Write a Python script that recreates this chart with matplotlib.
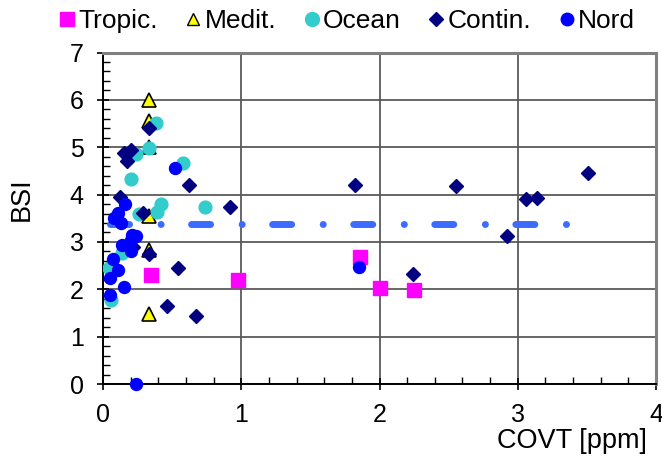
import matplotlib
matplotlib.use("Agg")
import matplotlib.pyplot as plt
from matplotlib.lines import Line2D
from matplotlib.ticker import MultipleLocator

plt.rcParams['font.family'] = ['Liberation Sans', 'DejaVu Sans']
plt.rcParams['lines.scale_dashes'] = False

# values
tropic_x = [0.35, 0.98, 1.86, 2.00, 2.25]
tropic_y = [2.30, 2.19, 2.68, 2.02, 1.98]

medit_x = [0.33, 0.33, 0.33, 0.33, 0.33, 0.33]
medit_y = [6.00, 5.55, 5.00, 3.55, 2.83, 1.48]

ocean_x = [0.38, 0.33, 0.24, 0.58, 0.20, 0.42, 0.39, 0.26, 0.74, 0.14, 0.04, 0.06]
ocean_y = [5.51, 4.99, 4.86, 4.66, 4.32, 3.81, 3.64, 3.58, 3.74, 2.76, 2.44, 1.78]

contin_x = [0.33, 0.20, 0.15, 0.17, 0.62, 0.12, 0.29, 0.92, 0.22, 0.33,
            0.54, 0.46, 0.67, 1.82, 2.55, 3.06, 3.14, 3.51, 2.92, 2.24]
contin_y = [5.41, 4.95, 4.88, 4.71, 4.21, 3.94, 3.62, 3.74, 2.90, 2.74,
            2.44, 1.64, 1.43, 4.20, 4.18, 3.90, 3.92, 4.46, 3.12, 2.32]

nord_x = [0.52, 0.16, 0.11, 0.08, 0.13, 0.21, 0.24, 0.20, 0.14, 0.20,
          0.07, 0.11, 0.05, 0.15, 0.05, 0.24, 1.85]
nord_y = [4.57, 3.80, 3.62, 3.50, 3.39, 3.15, 3.12, 3.04, 2.93, 2.81,
          2.65, 2.41, 2.24, 2.04, 1.87, 0.00, 2.48]

mean_bsi = 3.38
mean_x = [0.054, 3.352]

fig = plt.figure(figsize=(6.62, 4.61), dpi=100)
ax = fig.add_axes([103 / 662, 1 - 384 / 461, 553 / 662, 331.5 / 461])

ax.set_xlim(0, 4)
ax.set_ylim(0, 7)

# mean line, dash-dot with round caps
ax.plot(mean_x, [mean_bsi, mean_bsi], color='#3B6BFF', lw=5,
        dashes=(13.7, 22.7, 0.07, 21.9), dash_capstyle='round', zorder=2)

ax.plot(tropic_x, tropic_y, 's', ms=10.5, color='#FF00FF', mec='#FF00FF', zorder=3)
ax.plot(medit_x, medit_y, '^', ms=9.5, mfc='#FFFF00', mec='black', mew=1.2, zorder=3)
ax.plot(ocean_x, ocean_y, 'o', ms=9.2, color='#33CCCC', zorder=3)
ax.plot(contin_x, contin_y, 'D', ms=7.5, color='#000080', zorder=3)
ax.plot(nord_x, nord_y, 'o', ms=8.6, color='#0000FF', zorder=3, clip_on=False)

ax.xaxis.set_major_locator(MultipleLocator(1))
ax.yaxis.set_major_locator(MultipleLocator(1))
ax.xaxis.set_minor_locator(MultipleLocator(0.2))
ax.yaxis.set_minor_locator(MultipleLocator(0.2))
ax.grid(True, which='major', color='#5a5a5a', lw=1.3)
ax.set_axisbelow(True)

ax.tick_params(which='major', direction='inout', length=8, width=1.2, labelsize=18, pad=10)
ax.tick_params(which='minor', direction='in', length=5, width=1)
ax.tick_params(axis='x', which='major', pad=10)

for s in ['left', 'bottom']:
    ax.spines[s].set_color('black')
    ax.spines[s].set_linewidth(1.4)
for s in ['top', 'right']:
    ax.spines[s].set_color('#808080')
    ax.spines[s].set_linewidth(2.2)

ax.set_xlabel('COVT [ppm]', fontsize=19.5)
ax.xaxis.set_label_coords((572 - 103) / 553, -(441 - 384) / 331.5)
ax.xaxis.label.set_va('center')
ax.set_ylabel('BSI', fontsize=19.5)
ax.yaxis.set_label_coords((22 - 103) / 553, (384 - 199) / 331.5)
ax.yaxis.label.set_va('center')

handles = [
    Line2D([], [], ls='', marker='s', ms=9.5, color='#FF00FF'),
    Line2D([], [], ls='', marker='^', ms=9, mfc='#FFFF00', mec='black', mew=1),
    Line2D([], [], ls='', marker='o', ms=10, color='#33CCCC'),
    Line2D([], [], ls='', marker='D', ms=7, color='#000080'),
    Line2D([], [], ls='', marker='o', ms=9, color='#0000FF'),
]
labels = ['Tropic.', 'Medit.', 'Ocean', 'Contin.', 'Nord']
fig.legend(handles, labels, loc='center', bbox_to_anchor=(347 / 662, 1 - 21 / 461),
           ncol=5, frameon=False, fontsize=19, handlelength=0.6,
           handletextpad=0.12, columnspacing=1.05, borderpad=0)

fig.savefig('out.png', dpi=100)
